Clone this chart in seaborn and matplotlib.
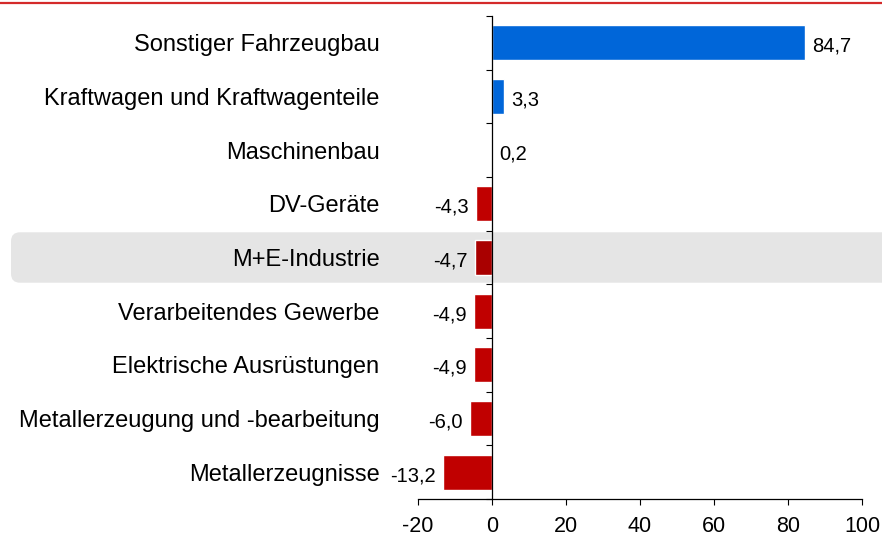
import numpy as np
import matplotlib
matplotlib.use("Agg")
import matplotlib.pyplot as plt
import seaborn as sns
from matplotlib.patches import FancyBboxPatch
from matplotlib.lines import Line2D

# data
categories = [
    "Sonstiger Fahrzeugbau",
    "Kraftwagen und Kraftwagenteile",
    "Maschinenbau",
    "DV-Geräte",
    "M+E-Industrie",
    "Verarbeitendes Gewerbe",
    "Elektrische Ausrüstungen",
    "Metallerzeugung und -bearbeitung",
    "Metallerzeugnisse",
]
values = [84.7, 3.3, 0.2, -4.3, -4.7, -4.9, -4.9, -6.0, -13.2]
highlight = "M+E-Industrie"
x_ticks = [-20, 0, 20, 40, 60, 80, 100]

BLUE = "#0066d9"
RED = "#c00000"
DARK_RED = "#a90000"
colors = []
for c, v in zip(categories, values):
    if c == highlight:
        colors.append(DARK_RED)
    elif v >= 0:
        colors.append(BLUE)
    else:
        colors.append(RED)

sns.set_style("white")
plt.rcParams["font.family"] = ["Liberation Sans", "DejaVu Sans"]
plt.rcParams["text.color"] = "black"
plt.rcParams["xtick.color"] = "black"
plt.rcParams["ytick.color"] = "black"

fig = plt.figure(figsize=(8.82, 5.41), dpi=100)
ax = fig.add_axes([418 / 882, 1 - 499 / 541, 444 / 882, 483 / 541])
ax.patch.set_alpha(0)

sns.barplot(x=values, y=categories, hue=categories, palette=colors,
            legend=False, orient="h", width=0.65, ax=ax, saturation=1)

ax.set_xlim(-20, 100)
ax.set_ylim(8.5, -0.5)
ax.set_xticks(x_ticks)
ax.set_xticklabels([str(t) for t in x_ticks])
ax.set_xlabel("")
ax.set_ylabel("")

# category labels on major ticks, boundary ticks as minor
ax.set_yticks(range(len(categories)))
ax.set_yticklabels(categories)
ax.set_yticks(np.arange(-0.5, len(categories), 1), minor=True)
ax.tick_params(axis="y", which="major", length=0, pad=81, labelsize=17)
ax.tick_params(axis="y", which="minor", length=4.3, width=0.8, direction="out", left=True)
ax.tick_params(axis="x", length=4.3, width=0.8, direction="out", bottom=True, pad=8, labelsize=15.5)

for side in ["top", "right"]:
    ax.spines[side].set_visible(False)
ax.spines["left"].set_position(("data", 0))
ax.spines["left"].set_zorder(5)
for side in ["left", "bottom"]:
    ax.spines[side].set_color("black")
    ax.spines[side].set_linewidth(0.9)

# value labels with german decimal comma
for cont in ax.containers:
    labs = [f"{b.get_width():.1f}".replace(".", ",") for b in cont]
    texts = ax.bar_label(cont, labels=labs, padding=5, fontsize=14.5)
    for t in texts:
        ox, oy = t.xyann
        t.xyann = (ox, oy - 2.5)

# highlighted row band behind the chart
idx = categories.index(highlight)
_, y_top = ax.transData.transform((0, idx - 0.47))
_, y_bot = ax.transData.transform((0, idx + 0.47))
band = FancyBboxPatch((11, y_bot), 900, y_top - y_bot,
                      boxstyle="round,pad=0,rounding_size=9",
                      transform=None, facecolor="#e5e5e5", edgecolor="none", zorder=-1)
fig.add_artist(band)

# red rule at the top
fig.add_artist(Line2D([0, 1], [0.995, 0.995], transform=fig.transFigure,
                      color="#d42a2a", linewidth=1.6))

fig.savefig("out.png", dpi=100)
